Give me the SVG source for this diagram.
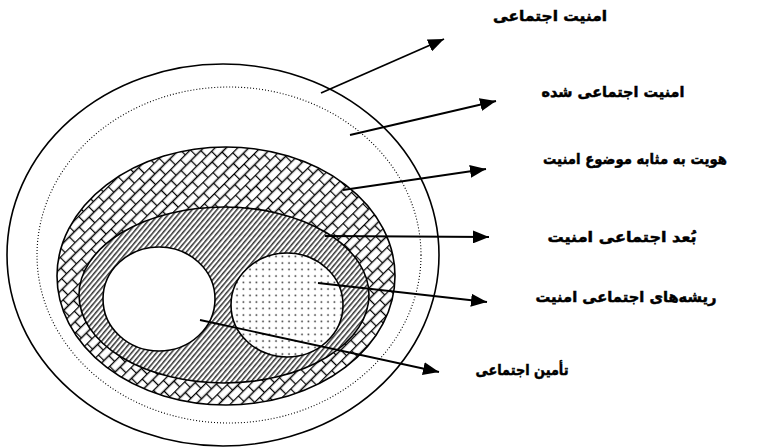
<svg xmlns="http://www.w3.org/2000/svg" width="758" height="448" viewBox="0 0 758 448">
<defs>
  <pattern id="brick" patternUnits="userSpaceOnUse" width="14" height="16" patternTransform="rotate(-45)">
    <rect width="14" height="16" fill="#fff"/>
    <path d="M0 0.5H14M0 8.5H14M0.5 0.5V8.5M7.5 8.5V16.5" stroke="#000" stroke-width="1.3" fill="none"/>
  </pattern>
  <pattern id="hatch" patternUnits="userSpaceOnUse" width="3.8" height="10" patternTransform="rotate(40)">
    <rect width="3.8" height="10" fill="#fff"/>
    <line x1="0.8" y1="0" x2="0.8" y2="10" stroke="#000" stroke-width="1.2"/>
  </pattern>
  <pattern id="dots" patternUnits="userSpaceOnUse" width="6.5" height="6.5">
    <rect width="6.5" height="6.5" fill="#fff"/>
    <circle cx="3" cy="3" r="0.9" fill="#333"/>
  </pattern>
  <marker id="ah" viewBox="0 0 10 10" refX="10" refY="5" markerWidth="16" markerHeight="13" markerUnits="userSpaceOnUse" orient="auto" preserveAspectRatio="none">
    <path d="M0 0L10 5L0 10Z" fill="#000"/>
  </marker>
  <style>
    .ring{fill:none;stroke:#000;stroke-width:1.6}
    .conn{stroke:#000;stroke-width:1.8;fill:none;marker-end:url(#ah)}
    .lbl{font-family:"DejaVu Sans","Noto Sans",sans-serif;font-weight:bold;font-size:15px;fill:#000;stroke:#000;stroke-width:0.5;text-anchor:middle}
  </style>
</defs>
<rect width="758" height="448" fill="#fff"/>
<g id="outer">
  <ellipse class="ring" cx="223" cy="255" rx="216" ry="191"/>
</g>
<g id="dotted">
  <ellipse cx="229" cy="255" rx="192" ry="168" fill="none" stroke="#000" stroke-width="1.1" stroke-dasharray="1 2"/>
</g>
<g id="identity">
  <ellipse cx="226" cy="276" rx="169" ry="129" fill="url(#brick)" stroke="#000" stroke-width="1.6"/>
</g>
<g id="dimension">
  <ellipse cx="224" cy="295" rx="145" ry="88" fill="url(#hatch)" stroke="#000" stroke-width="1.6"/>
</g>
<g id="security">
  <ellipse cx="159" cy="299" rx="56" ry="52" fill="#fff" stroke="#000" stroke-width="1.6"/>
</g>
<g id="roots">
  <ellipse cx="287" cy="305" rx="56" ry="52" fill="url(#dots)" stroke="#000" stroke-width="1.6"/>
</g>
<g id="connectors">
  <line class="conn" x1="321" y1="93" x2="444" y2="39"/>
  <line class="conn" x1="350" y1="135" x2="496" y2="101"/>
  <line class="conn" x1="343" y1="190" x2="486" y2="169"/>
  <line class="conn" x1="325" y1="236" x2="489" y2="237"/>
  <line class="conn" x1="318" y1="283" x2="487" y2="302"/>
  <line class="conn" x1="200" y1="320" x2="439" y2="372"/>
</g>
<g id="labels">
  <text class="lbl" x="550" y="21" textLength="114" lengthAdjust="spacingAndGlyphs">امنیت اجتماعی</text>
  <text class="lbl" x="613" y="97" textLength="143" lengthAdjust="spacingAndGlyphs">امنیت اجتماعی شده</text>
  <text class="lbl" x="635" y="164" textLength="184" lengthAdjust="spacingAndGlyphs">هویت به مثابه موضوع امنیت</text>
  <text class="lbl" x="622" y="242" textLength="149" lengthAdjust="spacingAndGlyphs">بُعد اجتماعی امنیت</text>
  <text class="lbl" x="626" y="302" textLength="181" lengthAdjust="spacingAndGlyphs">ریشه‌های اجتماعی امنیت</text>
  <text class="lbl" x="522" y="375" textLength="93" lengthAdjust="spacingAndGlyphs">تأمین اجتماعی</text>
</g>
</svg>
